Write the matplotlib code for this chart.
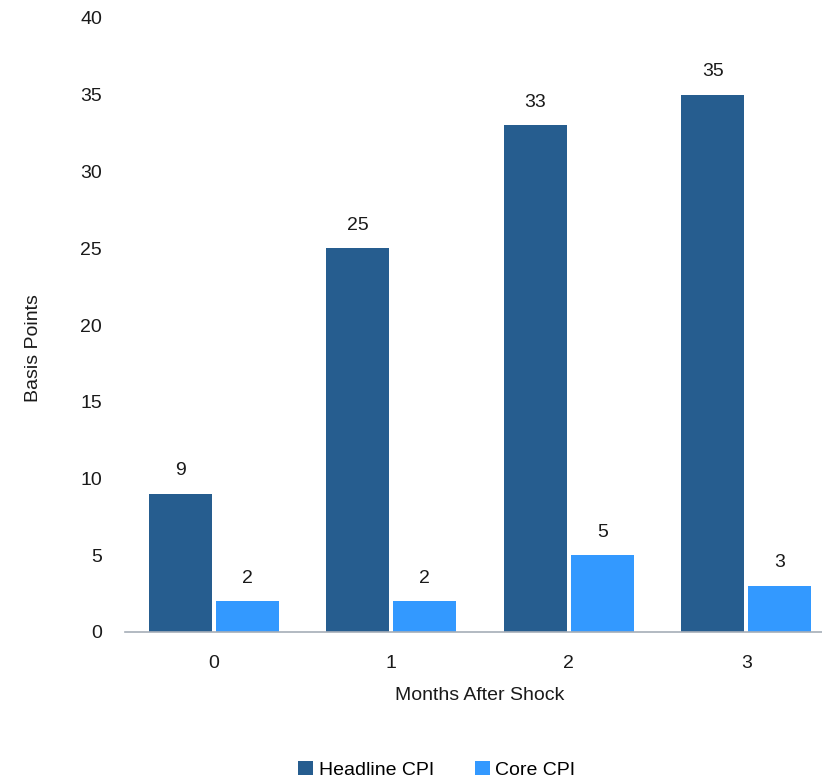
import matplotlib
matplotlib.use("Agg")
import matplotlib.pyplot as plt
import numpy as np

plt.rcParams['font.family'] = ['Liberation Sans', 'DejaVu Sans']

months = ["0", "1", "2", "3"]
headline_cpi = [9, 25, 33, 35]
core_cpi = [2, 2, 5, 3]
y_ticks = [0, 5, 10, 15, 20, 25, 30, 35, 40]

W, H = 822, 781
fig = plt.figure(figsize=(W / 100, H / 100), dpi=100)
left, right, bottom, top = 125, 835, 632, 18
ax = fig.add_axes([left / W, 1 - bottom / H, (right - left) / W, (bottom - top) / H])

x = np.arange(len(months))
bw = 0.355
gap = 0.022
c_head = "#265D8F"
c_core = "#3399FF"
fs = 14
tc = "#1a1a1a"

b1 = ax.bar(x - bw / 2 - gap / 2, headline_cpi, bw, color=c_head, label="Headline CPI")
b2 = ax.bar(x + bw / 2 + gap / 2, core_cpi, bw, color=c_core, label="Core CPI")

for bars, vals in ((b1, headline_cpi), (b2, core_cpi)):
    for r, v in zip(bars, vals):
        ax.annotate(f"{v}", (r.get_x() + r.get_width() / 2, v), xytext=(0, 10.5),
                    textcoords="offset points", ha="center", va="bottom", fontsize=fs, color=tc)

ax.set_xlim(-0.5, 3.5)
ax.set_ylim(0, 40)
ax.set_yticks(y_ticks)
ax.set_xticks(x)
ax.set_xticklabels(months)
for s in ("top", "right", "left"):
    ax.spines[s].set_visible(False)
ax.spines["bottom"].set_color("#A6AEB8")
ax.spines["bottom"].set_linewidth(1.2)
ax.tick_params(axis="both", length=0, labelsize=fs, labelcolor=tc)
ax.tick_params(axis="y", pad=16.5)
ax.tick_params(axis="x", pad=16.5)
ax.set_xlabel("Months After Shock", fontsize=fs, color=tc, labelpad=10.5)
ax.set_ylabel("Basis Points", fontsize=fs, color=tc)
ax.yaxis.set_label_coords((42 - left) / (right - left), (bottom - 348) / (bottom - top))

fig.legend(handles=[b1, b2], loc="center", bbox_to_anchor=(437 / W, 1 - 770 / H), ncol=2,
           frameon=False, fontsize=fs, handlelength=0.75, handleheight=0.75,
           handletextpad=0.3, columnspacing=2.1)

fig.savefig("out.png", dpi=100)
